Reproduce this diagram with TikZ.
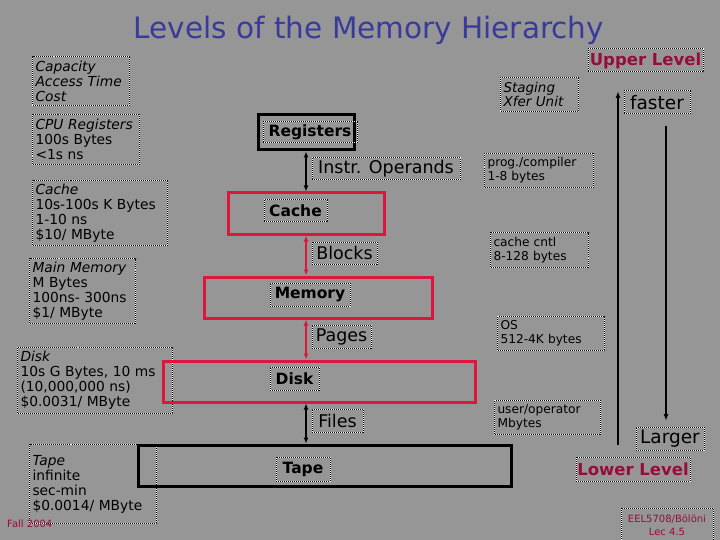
\documentclass[tikz,border=0pt]{standalone}
\usepackage{fontspec}
\setmainfont{DejaVu Sans}
\usetikzlibrary{arrows.meta}
\definecolor{bg}{RGB}{150,150,150}
\definecolor{titleblue}{RGB}{58,58,155}
\definecolor{lvlred}{RGB}{150,12,60}
\definecolor{boxred}{RGB}{220,22,60}
\tikzset{
  tb/.style={draw=white, line width=1pt, postaction={draw=black, line width=1pt, dash pattern=on 1pt off 1pt}},
  info/.style={tb, anchor=north west, align=left, inner xsep=3pt, inner ysep=1pt, font=\fontsize{13.8}{15}\selectfont},
  side/.style={tb, anchor=north west, align=left, inner xsep=3pt, inner ysep=1pt, font=\fontsize{12.2}{14}\selectfont},
  lab/.style={tb, inner sep=0pt, font=\fontsize{17.5}{19}\selectfont},
  lvl/.style={lab, font=\bfseries\fontsize{15.5}{17}\selectfont},
  redbox/.style={draw=boxred, line width=3pt},
  blkbox/.style={draw=black, line width=3pt},
  link/.style={line width=1.5pt, {Latex[length=6pt,width=5pt]}-{Latex[length=6pt,width=5pt]}},
  bigarrow/.style={line width=1.5pt, -{Latex[length=7pt,width=5pt]}},
}
\begin{document}
\begin{tikzpicture}[x=1pt,y=-1pt]
\useasboundingbox (0,0) rectangle (720,540);
\fill[bg] (0,0) rectangle (720,540);
% title
\node[text=titleblue, font=\fontsize{29.5}{32}\selectfont] (title) at (369,30) {Levels of the Memory Hierarchy};
% left info column
\node[info, text width=91pt, minimum height=49pt] (cap) at (32,56) {\textit{Capacity}\\\textit{Access Time}\\\textit{Cost}};
\node[info, text width=101pt, minimum height=50pt] (cpu) at (32,114) {\textit{CPU Registers}\\100s Bytes\\<1s ns};
\node[info, text width=129pt, minimum height=65pt] (cachei) at (32,180) {\textit{Cache}\\10s-100s K Bytes\\1-10 ns\\\$10/ MByte};
\node[info, text width=100pt, minimum height=65pt] (memi) at (29,258) {\textit{Main Memory}\\M Bytes\\100ns- 300ns\\\$1/ MByte};
\node[info, text width=149pt, minimum height=66pt] (diski) at (17,347) {\textit{Disk}\\10s G Bytes, 10 ms\\(10,000,000 ns)\\\$0.0031/ MByte};
\node[info, text width=121pt, minimum height=79pt] (tapei) at (29,444) {\textit{Tape}\\infinite\\sec-min\\\$0.0014/ MByte};
\node[text=lvlred, font=\fontsize{10}{12}\selectfont, anchor=west, inner sep=0pt] (fall) at (7,524) {Fall 2004};
% center column boxes
\node[blkbox, minimum width=96pt, minimum height=35pt, inner sep=0pt] (regb) at (306,132.5) {};
\node[redbox, minimum width=156pt, minimum height=41pt, inner sep=0pt] (cacheb) at (306,213.5) {};
\node[redbox, minimum width=228pt, minimum height=41pt, inner sep=0pt] (memb) at (318,297.5) {};
\node[redbox, minimum width=312pt, minimum height=41pt, inner sep=0pt] (diskb) at (319,381.5) {};
\node[blkbox, minimum width=373pt, minimum height=41pt, inner sep=0pt] (tapeb) at (324.5,465.5) {};
% center labels
\node[lvl, minimum width=94pt, minimum height=21pt] (regl) at (310,132.5) {Registers};
\node[lvl, minimum width=63pt, minimum height=22pt] (cachel) at (295.5,211) {Cache};
\node[lvl, minimum width=80pt, minimum height=23pt] (meml) at (310,294.5) {Memory};
\node[lvl, minimum width=49pt, minimum height=23pt] (diskl) at (294.5,378.5) {Disk};
\node[lvl, minimum width=54pt, minimum height=24pt] (tapel) at (303,469) {Tape};
% transfer labels
\node[lab, minimum width=148pt, minimum height=22pt] (instr) at (386,169) {Instr. Operands};
\node[lab, minimum width=65pt, minimum height=22pt] (blocks) at (344.5,253) {Blocks};
\node[lab, minimum width=59pt, minimum height=23pt] (pages) at (341.5,336.5) {Pages};
\node[lab, minimum width=51pt, minimum height=23pt] (files) at (337.5,420.5) {Files};
% connectors
\coordinate (ax) at (306,0);
\draw[link] (regb.south -| ax) -- (cacheb.north -| ax);
\draw[link, boxred] (cacheb.south -| ax) -- (memb.north -| ax);
\draw[link, boxred] (memb.south -| ax) -- (diskb.north -| ax);
\draw[link] (diskb.south -| ax) -- (tapeb.north -| ax);
% right column
\node[side, text width=72pt, minimum height=34pt, font=\itshape\fontsize{13.5}{14}\selectfont] (staging) at (500,77) {Staging\\Xfer Unit};
\node[side, text width=103pt, minimum height=34pt] (prog) at (484,153) {prog./compiler\\1-8 bytes};
\node[side, text width=92pt, minimum height=35pt] (cntl) at (490,232) {cache cntl\\8-128 bytes};
\node[side, text width=101pt, minimum height=34pt] (os) at (497,316) {OS\\512-4K bytes};
\node[side, text width=100pt, minimum height=34pt] (user) at (494,400) {user/operator\\Mbytes};
\node[lvl, text=lvlred, minimum width=115pt, minimum height=23pt, font=\bfseries\fontsize{16.5}{18}\selectfont] (upper) at (645.5,60.5) {Upper Level};
\node[lab, minimum width=66pt, minimum height=23pt, font=\fontsize{18.5}{20}\selectfont] (faster) at (657,102.5) {faster};
\node[lab, minimum width=68pt, minimum height=23pt, font=\fontsize{18.5}{20}\selectfont] (larger) at (670,438.5) {Larger};
\node[lvl, text=lvlred, minimum width=114pt, minimum height=24pt, font=\bfseries\fontsize{16.5}{18}\selectfont] (lower) at (633,469) {Lower Level};
\node[tb, text=lvlred, align=center, inner sep=1pt, minimum width=92pt, minimum height=34pt, font=\fontsize{10}{13}\selectfont] (eel) at (667,525) {EEL5708/Bölöni\\Lec 4.5};
\coordinate (upS) at (618,445);
\coordinate (upE) at (618,91);
\coordinate (dnS) at (666,126);
\coordinate (dnE) at (666,421);
\draw[bigarrow] (upS) -- (upE);
\draw[bigarrow] (dnS) -- (dnE);
\end{tikzpicture}
\end{document}
